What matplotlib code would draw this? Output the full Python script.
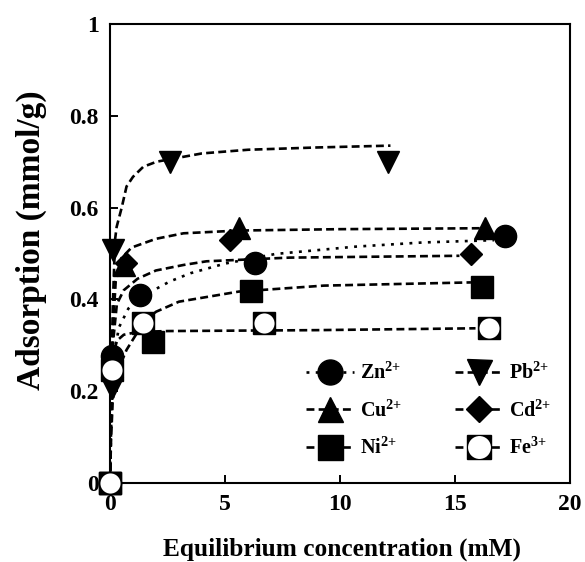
import matplotlib
matplotlib.use("Agg")
import matplotlib.pyplot as plt
from matplotlib.lines import Line2D
from matplotlib.legend_handler import HandlerLine2D

plt.rcParams['font.family'] = 'Liberation Serif'
plt.rcParams['font.weight'] = 'bold'
plt.rcParams['mathtext.fontset'] = 'custom'
plt.rcParams['mathtext.rm'] = 'Liberation Serif:bold'
plt.rcParams['mathtext.it'] = 'Liberation Serif:bold'
plt.rcParams['mathtext.bf'] = 'Liberation Serif:bold'

# measured points (Ce in mM, q in mmol/g)
zn_x = [0, 0.07, 1.3, 6.3, 17.2]
zn_y = [0, 0.276, 0.41, 0.479, 0.538]
cu_x = [0, 0.6, 5.6, 16.3]
cu_y = [0, 0.475, 0.555, 0.555]
ni_x = [0, 1.87, 6.13, 16.2]
ni_y = [0, 0.308, 0.418, 0.428]
pb_x = [0, 0.07, 0.15, 2.6, 12.1]
pb_y = [0, 0.207, 0.508, 0.70, 0.70]
cd_x = [0, 0.7, 5.2, 15.7]
cd_y = [0, 0.48, 0.529, 0.499]
fe_x = [0, 0.07, 1.45, 6.7, 16.5]
fe_y = [0, 0.246, 0.348, 0.348, 0.337]

# fitted isotherm curves
zn_fx = [0, 0.05, 0.12, 0.2, 0.4, 0.8, 1.3, 1.9, 2.6, 3.5, 5, 7.2, 10.7, 13.6, 16.7]
zn_fy = [0, 0.12, 0.24, 0.29, 0.34, 0.38, 0.405, 0.42, 0.439, 0.457, 0.478, 0.499, 0.515, 0.524, 0.529]
cu_fx = [0, 0.05, 0.12, 0.25, 0.5, 0.94, 2.0, 3.2, 5.6, 10, 16.1]
cu_fy = [0, 0.18, 0.33, 0.44, 0.49, 0.513, 0.532, 0.544, 0.55, 0.553, 0.555]
ni_fx = [0, 0.05, 0.12, 0.3, 0.72, 1.4, 2.0, 3.0, 5.6, 9.3, 15.7]
ni_fy = [0, 0.1, 0.18, 0.24, 0.29, 0.345, 0.373, 0.395, 0.417, 0.43, 0.437]
pb_fx = [0, 0.05, 0.12, 0.22, 0.29, 0.51, 0.72, 1.0, 1.45, 2.03, 4, 6, 9, 12.2]
pb_fy = [0, 0.2, 0.38, 0.53, 0.558, 0.60, 0.646, 0.667, 0.689, 0.70, 0.718, 0.726, 0.731, 0.735]
cd_fx = [0, 0.05, 0.12, 0.3, 0.6, 1.2, 2.0, 3.2, 4.2, 7.8, 15.2]
cd_fy = [0, 0.15, 0.3, 0.39, 0.42, 0.445, 0.463, 0.475, 0.483, 0.491, 0.495]
fe_fx = [0, 0.03, 0.08, 0.15, 0.3, 0.6, 1.2, 2.5, 9, 15.9]
fe_fy = [0, 0.12, 0.23, 0.28, 0.31, 0.323, 0.329, 0.331, 0.333, 0.337]

lw = 1.9
dash = (3.0, 1.6)
dot = (1.1, 2.4)

fig = plt.figure(figsize=(5.85, 5.62), dpi=100)
ax = fig.add_axes([0.188, 0.1406, 0.786, 0.8167])

for fx, fy, ds in [(zn_fx, zn_fy, dot), (cu_fx, cu_fy, dash), (ni_fx, ni_fy, dash),
                   (pb_fx, pb_fy, dash), (cd_fx, cd_fy, dash), (fe_fx, fe_fy, dash)]:
    ax.plot(fx, fy, color='black', lw=lw, dashes=ds, zorder=2)

mk = dict(linestyle='none', color='black', clip_on=False, zorder=5)
ax.plot(pb_x, pb_y, marker='v', ms=16, **mk)
ax.plot(cd_x, cd_y, marker='D', ms=11.5, **mk)
ax.plot(cu_x, cu_y, marker='^', ms=16, **mk)
ax.plot(ni_x, ni_y, marker='s', ms=16, **mk)
ax.plot(zn_x, zn_y, marker='o', ms=16, **mk)
ax.plot(fe_x, fe_y, marker='s', ms=15.5, **mk)
ax.plot(fe_x, fe_y, marker='o', ms=14.5, linestyle='none', mfc='white', mec='white',
        mew=0, clip_on=False, zorder=6)

ax.set_xlim(0, 20)
ax.set_ylim(0, 1)
ax.set_xticks([0, 5, 10, 15, 20])
ax.set_xticklabels(['0', '5', '10', '15', '20'])
ax.set_yticks([0, 0.2, 0.4, 0.6, 0.8, 1])
ax.set_yticklabels(['0', '0.2', '0.4', '0.6', '0.8', '1'])
ax.tick_params(direction='in', length=6, width=1.4, labelsize=17, pad=8)
for s in ax.spines.values():
    s.set_linewidth(1.5)

ax.set_xlabel('Equilibrium concentration (mM)', fontsize=18.3, fontweight='bold')
ax.xaxis.set_label_coords(0.504, -0.118)
ax.set_ylabel('Adsorption (mmol/g)', fontsize=24, fontweight='bold')
ax.yaxis.set_label_coords(-0.137, 0.529)


class FeHandler(HandlerLine2D):
    # black square with a white disc on top
    def create_artists(self, legend, orig_handle, xdescent, ydescent, width, height,
                       fontsize, trans):
        arts = super().create_artists(legend, orig_handle, xdescent, ydescent, width,
                                      height, fontsize, trans)
        xd = arts[-1].get_xdata()
        yd = arts[-1].get_ydata()
        mid = len(xd) // 2
        disc = Line2D([xd[mid]], [yd[mid]], ls='none', marker='o', ms=16.5,
                      mfc='white', mec='white', mew=0, transform=trans)
        return list(arts) + [disc]


def h(marker, ms, ds):
    return Line2D([], [], color='black', lw=lw, dashes=ds, marker=marker, ms=ms)

fe_h = h('s', 17.5, dash)
handles = [h('o', 18, dot), h('^', 18, dash), h('s', 18, dash),
           h('v', 18, dash), h('D', 13, dash), fe_h]
labels = [r'Zn$^{2{+}}$', r'Cu$^{2{+}}$', r'Ni$^{2{+}}$',
          r'Pb$^{2{+}}$', r'Cd$^{2{+}}$', r'Fe$^{3{+}}$']
ax.legend(handles, labels, ncol=2, loc='upper left', bbox_to_anchor=(0.408, 0.28),
          frameon=False, fontsize=14.5, handlelength=2.4, handletextpad=0.3,
          columnspacing=2.6, labelspacing=0.82, borderaxespad=0,
          handler_map={fe_h: FeHandler()})

fig.savefig('out.png', dpi=100)
